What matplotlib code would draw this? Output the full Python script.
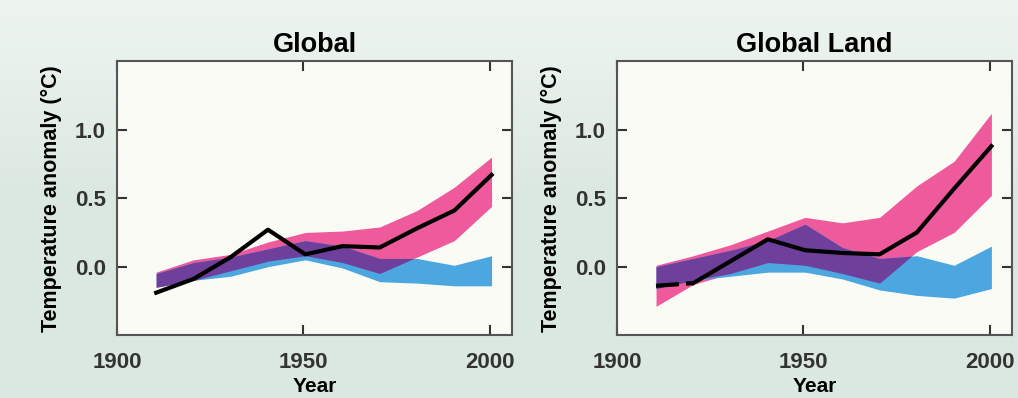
import numpy as np
import matplotlib.pyplot as plt

# decade midpoints
years = [1910.5, 1920.5, 1930.5, 1940.5, 1950.5, 1960.5, 1970.5, 1980.5, 1990.5, 2000.5]

# Global: observations, natural+anthropogenic (pink), natural only (blue)
glob_obs = [-0.19, -0.09, 0.07, 0.27, 0.09, 0.15, 0.14, 0.28, 0.41, 0.67]
glob_all_hi = [-0.04, 0.05, 0.09, 0.18, 0.25, 0.26, 0.29, 0.41, 0.58, 0.80]
glob_all_lo = [-0.15, -0.10, -0.03, 0.04, 0.08, 0.03, -0.05, 0.07, 0.19, 0.44]
glob_nat_hi = [-0.05, 0.03, 0.07, 0.13, 0.19, 0.15, 0.06, 0.06, 0.01, 0.08]
glob_nat_lo = [-0.15, -0.10, -0.07, 0.00, 0.05, -0.01, -0.11, -0.12, -0.14, -0.14]

# Global land
land_obs = [-0.14, -0.12, 0.04, 0.20, 0.12, 0.10, 0.09, 0.25, 0.57, 0.88]
land_all_hi = [0.01, 0.08, 0.16, 0.26, 0.36, 0.32, 0.36, 0.59, 0.77, 1.12]
land_all_lo = [-0.29, -0.13, -0.05, 0.03, 0.01, -0.05, -0.12, 0.11, 0.25, 0.52]
land_nat_hi = [0.00, 0.06, 0.12, 0.19, 0.31, 0.14, 0.06, 0.08, 0.01, 0.15]
land_nat_lo = [-0.16, -0.10, -0.07, -0.04, -0.04, -0.09, -0.17, -0.21, -0.23, -0.16]

bg = '#dbe8e0'
pink = '#ee5a9c'
blue = '#4ca6e0'
purple = '#6f3f9c'

plt.rcParams['font.family'] = ['Liberation Sans', 'DejaVu Sans']
fig = plt.figure(figsize=(10.18, 3.98), dpi=100, facecolor=bg)

# soft background, lighter near the top like the scanned page
bgax = fig.add_axes([0, 0, 1, 1], zorder=-1)
grad = np.linspace(0, 1, 100).reshape(-1, 1)
bgax.imshow(grad, aspect='auto', extent=(0, 1, 0, 1),
            cmap=plt.matplotlib.colors.LinearSegmentedColormap.from_list('bg', ['#eef5f0', bg, bg]))
bgax.axis('off')

def panel(ax, title, obs, all_hi, all_lo, nat_hi, nat_lo, dashed_start=0):
    x = np.array(years)
    ahi, alo = np.array(all_hi), np.array(all_lo)
    nhi, nlo = np.array(nat_hi), np.array(nat_lo)
    ax.set_facecolor('#fbfbf6')
    ax.fill_between(x, alo, ahi, color=pink, lw=0)
    ax.fill_between(x, nlo, nhi, color=blue, lw=0)
    top = np.minimum(ahi, nhi)
    bot = np.maximum(alo, nlo)
    ax.fill_between(x, bot, top, where=top > bot, interpolate=True, color=purple, lw=0)
    if dashed_start:
        ax.plot(x[:dashed_start + 1], obs[:dashed_start + 1], color='black', lw=3,
                linestyle=(0, (5.5, 1.7)), solid_capstyle='butt')
        ax.plot(x[dashed_start:], obs[dashed_start:], color='black', lw=3)
    else:
        ax.plot(x, obs, color='black', lw=3)
    ax.set_xlim(1900, 2006)
    ax.set_ylim(-0.5, 1.5)
    ax.set_xticks([1900, 1950, 2000])
    ax.set_yticks([0.0, 0.5, 1.0])
    ax.set_yticklabels(['0.0', '0.5', '1.0'])
    ax.tick_params(direction='in', length=7, width=1.5, top=True, right=True,
                   labelsize=16, colors='#333333', pad=8)
    ax.tick_params(axis='x', pad=12)
    for lab in ax.get_xticklabels() + ax.get_yticklabels():
        lab.set_fontweight('bold')
        lab.set_color('#333333')
    for s in ax.spines.values():
        s.set_color('#555555')
        s.set_linewidth(1.5)
    ax.set_title(title, fontsize=19.5, fontweight='bold', pad=7)
    ax.set_xlabel('Year', fontsize=15, fontweight='bold', labelpad=3)
    ax.set_ylabel('Temperature anomaly (°C)', fontsize=15.5, fontweight='bold', labelpad=9)

ax1 = fig.add_axes([0.115, 0.158, 0.388, 0.688])
ax2 = fig.add_axes([0.606, 0.158, 0.388, 0.688])
panel(ax1, 'Global', glob_obs, glob_all_hi, glob_all_lo, glob_nat_hi, glob_nat_lo)
panel(ax2, 'Global Land', land_obs, land_all_hi, land_all_lo, land_nat_hi, land_nat_lo, dashed_start=1)

fig.savefig('out.png', dpi=100, facecolor=bg)
